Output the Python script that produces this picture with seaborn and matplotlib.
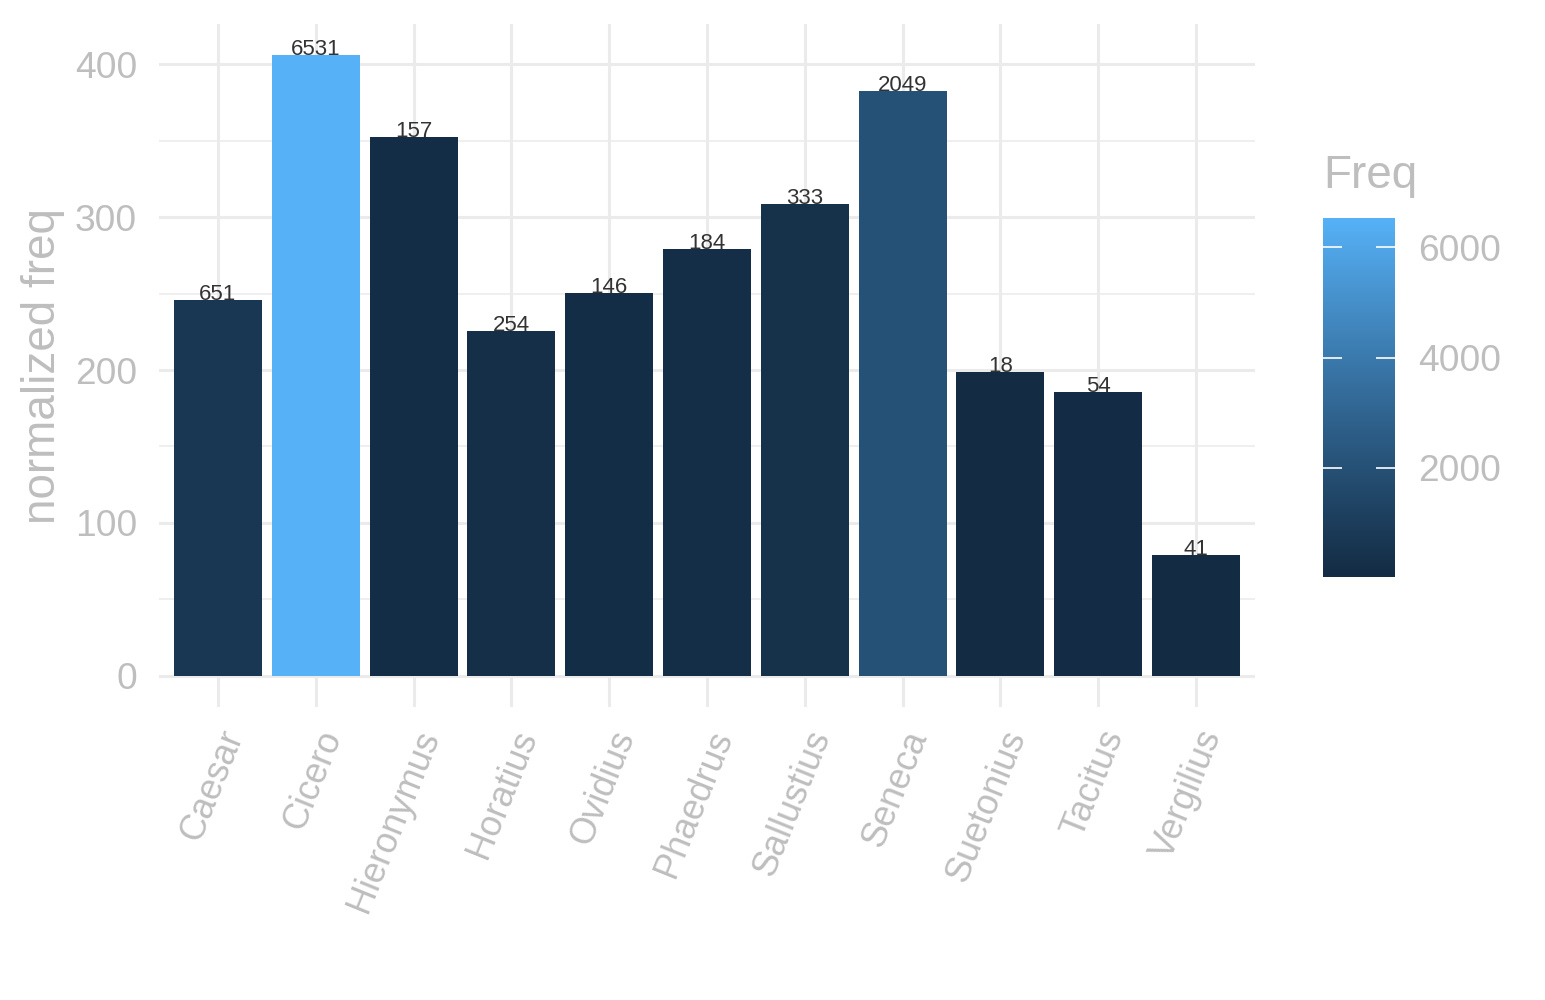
import numpy as np
import pandas as pd
import matplotlib
matplotlib.use('Agg')
import matplotlib.pyplot as plt
from matplotlib.colors import ListedColormap, Normalize
from matplotlib.cm import ScalarMappable
import seaborn as sns

authors = ['Caesar', 'Cicero', 'Hieronymus', 'Horatius', 'Ovidius', 'Phaedrus',
           'Sallustius', 'Seneca', 'Suetonius', 'Tacitus', 'Vergilius']
norm_freq = [245.8, 405.9, 352.3, 225.5, 250.3, 279.1, 308.5, 382.4, 198.7, 185.6, 79.1]
freq = [651, 6531, 157, 254, 146, 184, 333, 2049, 18, 54, 41]

df = pd.DataFrame({'author': authors, 'norm': norm_freq, 'Freq': freq})


# ggplot-like gradient, interpolated in Lab space
def hex_to_lab(h):
    rgb = np.array([int(h[i:i + 2], 16) for i in (1, 3, 5)]) / 255.0
    lin = np.where(rgb <= 0.04045, rgb / 12.92, ((rgb + 0.055) / 1.055) ** 2.4)
    m = np.array([[0.4124, 0.3576, 0.1805],
                  [0.2126, 0.7152, 0.0722],
                  [0.0193, 0.1192, 0.9505]])
    xyz = m @ lin / np.array([0.95047, 1.0, 1.08883])
    f = np.where(xyz > 0.008856, np.cbrt(xyz), 7.787 * xyz + 16 / 116)
    return np.array([116 * f[1] - 16, 500 * (f[0] - f[1]), 200 * (f[1] - f[2])])


def lab_to_rgb(lab):
    L, a, b = lab
    fy = (L + 16) / 116
    fx = fy + a / 500
    fz = fy - b / 200
    f = np.array([fx, fy, fz])
    xyz = np.where(f ** 3 > 0.008856, f ** 3, (f - 16 / 116) / 7.787)
    xyz = xyz * np.array([0.95047, 1.0, 1.08883])
    minv = np.array([[3.2406, -1.5372, -0.4986],
                     [-0.9689, 1.8758, 0.0415],
                     [0.0557, -0.2040, 1.0570]])
    lin = minv @ xyz
    rgb = np.where(lin <= 0.0031308, 12.92 * lin, 1.055 * np.clip(lin, 0, None) ** (1 / 2.4) - 0.055)
    return np.clip(rgb, 0, 1)


lo, hi = hex_to_lab('#132B43'), hex_to_lab('#56B1F7')
cmap = ListedColormap([lab_to_rgb(lo + t * (hi - lo)) for t in np.linspace(0, 1, 256)])
norm = Normalize(vmin=min(freq), vmax=max(freq))
pal = {a: cmap(norm(f)) for a, f in zip(authors, freq)}

plt.rcParams['font.family'] = ['Liberation Sans', 'DejaVu Sans']
grey = '#BEBEBE'

fig = plt.figure(figsize=(15.45, 10), dpi=100)
ax = fig.add_axes([159.3 / 1545, 1 - 707 / 1000, (1254.7 - 159.3) / 1545, (707 - 24) / 1000])

sns.barplot(data=df, x='author', y='norm', hue='author', palette=pal, width=0.9,
            saturation=1, legend=False, ax=ax)

for i, (v, f) in enumerate(zip(norm_freq, freq)):
    ax.text(i, v, str(f), ha='center', va='baseline', fontsize=16, color='#333333')

ax.set_xlim(-0.6, len(authors) - 0.4)
ax.set_ylim(-20.3, 426.2)
ax.set_yticks([0, 100, 200, 300, 400])
ax.set_yticks([50, 150, 250, 350], minor=True)
ax.set_axisbelow(True)
ax.grid(which='major', color='#EBEBEB', lw=2.2)
ax.grid(which='minor', axis='y', color='#EBEBEB', lw=1.1)
for s in ax.spines.values():
    s.set_visible(False)
ax.tick_params(which='both', length=0)
ax.tick_params(axis='y', labelsize=26.7, labelcolor=grey, pad=16)
ax.tick_params(axis='x', labelsize=26, labelcolor=grey, pad=13)
plt.setp(ax.get_xticklabels(), rotation=68, ha='right', va='top', rotation_mode='anchor')
ax.set_xlabel('')
ax.set_ylabel('normalized freq', fontsize=33, color=grey, labelpad=7)

# colour bar legend
cax = fig.add_axes([1323 / 1545, 1 - 577 / 1000, 72 / 1545, 359 / 1000])
cb = fig.colorbar(ScalarMappable(norm=norm, cmap=cmap), cax=cax, ticks=[2000, 4000, 6000])
cb.outline.set_visible(False)
cax.tick_params(which='both', direction='in', color='white', length=14, width=1.2,
                left=True, right=True, labelsize=26.7, labelcolor=grey, pad=16.5)
cax.minorticks_off()
fig.text(1323 / 1545, 1 - 176 / 1000, 'Freq', fontsize=33, color=grey, va='center', ha='left')

fig.savefig('out.png', dpi=100)
